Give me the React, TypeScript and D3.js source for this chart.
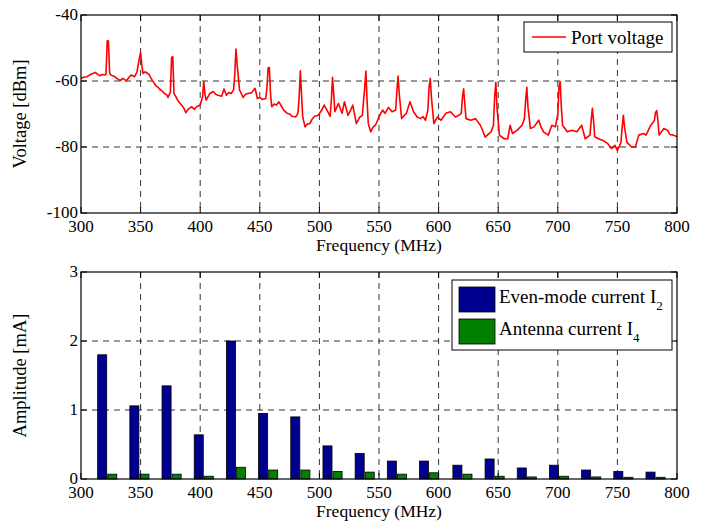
import React, { useRef, useEffect } from "react";
import * as d3 from "d3";

// port voltage trace (MHz, dBm)
const voltFreq = [
  300, 303, 305, 308, 312, 314, 316, 318, 320, 321, 322, 323, 324, 325, 328, 330, 333, 335, 338, 340,
  342, 345, 347, 349, 350, 351, 352, 354, 355, 357, 358, 360, 362, 363, 365, 366, 368, 370, 372, 373,
  375, 376, 377, 378, 380, 381, 384, 386, 388, 390, 393, 395, 397, 400, 402, 403, 404, 405, 408, 411,
  413, 415, 418, 420, 422, 424, 426, 428, 429, 430, 431, 433, 436, 438, 440, 443, 446, 448, 450, 452,
  455, 456, 457, 458, 459, 460, 462, 464, 466, 468, 470, 473, 475, 477, 480, 482, 483, 484, 485, 486,
  488, 490, 492, 494, 496, 499, 502, 504, 507, 509, 510, 511, 512, 513, 516, 519, 521, 524, 526, 528,
  531, 534, 536, 538, 539, 540, 541, 543, 545, 547, 550, 553, 555, 558, 561, 564, 565, 566, 567, 569,
  571, 573, 576, 579, 582, 585, 587, 589, 591, 592, 593, 594, 596, 599, 602, 606, 610, 614, 617, 619,
  620, 621, 622, 623, 627, 631, 635, 637, 639, 642, 644, 646, 647, 648, 649, 651, 655, 658, 660, 662,
  666, 670, 672, 673, 674, 675, 677, 680, 684, 686, 688, 692, 695, 698, 700, 701, 702, 703, 704, 708,
  712, 716, 720, 723, 727, 728, 729, 730, 731, 734, 738, 742, 745, 748, 750, 753, 754, 755, 756, 758,
  762, 765, 768, 772, 774, 778, 781, 782, 783, 784, 785, 789, 792, 794, 797, 800,
];
const voltDbm = [
  -59.2, -58.8, -58.7, -58.0, -57.4, -58.0, -58.4, -58.0, -58.2, -57.8, -47.8, -47.9, -57.5, -58.2, -58.6, -59.2, -59.9, -59.2, -59.9, -59.0,
  -58.2, -58.7, -57.2, -53.0, -51.3, -55.0, -57.7, -57.2, -57.5, -58.0, -58.7, -59.9, -61.0, -61.5, -62.0, -62.5, -63.0, -63.8, -64.2, -65.0,
  -63.3, -53.0, -52.6, -63.8, -65.0, -65.8, -67.1, -68.0, -69.6, -68.5, -67.8, -68.6, -67.8, -67.3, -64.8, -60.2, -64.0, -65.8, -63.8, -63.2,
  -64.0, -64.3, -64.6, -62.4, -64.3, -63.5, -63.8, -62.7, -58.0, -50.3, -55.0, -62.7, -65.0, -64.0, -63.8, -63.6, -62.2, -65.3, -65.0, -65.6,
  -65.3, -62.0, -56.0, -55.9, -64.0, -67.8, -67.0, -67.3, -66.3, -67.5, -68.8, -69.8, -70.0, -70.7, -70.9, -69.8, -65.0, -56.9, -64.0, -70.9,
  -73.9, -73.0, -72.9, -71.5, -70.7, -70.4, -68.8, -67.3, -69.3, -70.7, -66.0, -58.9, -64.0, -69.3, -66.8, -69.8, -66.3, -70.4, -69.0, -67.3,
  -72.9, -70.9, -70.4, -62.0, -57.0, -66.0, -72.9, -75.4, -74.0, -73.4, -70.9, -68.8, -69.8, -68.0, -69.3, -68.8, -63.0, -58.5, -64.0, -71.4,
  -70.5, -69.8, -66.3, -69.3, -70.9, -71.4, -70.8, -71.9, -68.8, -62.0, -59.2, -65.0, -72.9, -70.9, -71.9, -69.8, -69.3, -70.9, -70.4, -69.8,
  -65.0, -62.4, -67.0, -71.4, -71.9, -71.4, -73.4, -75.0, -77.0, -76.0, -75.4, -73.4, -65.0, -60.4, -68.0, -76.4, -77.5, -77.5, -73.4, -75.9,
  -74.9, -73.4, -71.4, -66.0, -61.9, -68.0, -74.4, -73.9, -71.9, -74.0, -75.4, -76.4, -73.4, -73.9, -70.0, -62.0, -60.2, -68.0, -73.4, -75.4,
  -74.9, -75.4, -73.4, -77.5, -76.4, -72.0, -68.3, -72.0, -76.9, -77.5, -78.0, -79.0, -80.5, -79.5, -81.0, -78.6, -74.0, -70.4, -74.0, -78.6,
  -80.0, -80.0, -76.4, -75.9, -76.4, -73.4, -72.0, -69.5, -69.0, -72.0, -76.4, -74.4, -74.9, -76.2, -76.4, -76.9,
];

// harmonic currents (MHz, mA)
const harmFreq = [322, 349, 376, 403, 430, 457, 484, 511, 538, 565, 592, 620, 647, 674, 701, 728, 755, 782];
const evenCurrent = [1.8, 1.06, 1.35, 0.64, 2.0, 0.95, 0.9, 0.48, 0.37, 0.26, 0.26, 0.2, 0.29, 0.16, 0.2, 0.13, 0.11, 0.1];
const antennaCurrent = [0.07, 0.07, 0.07, 0.04, 0.17, 0.13, 0.13, 0.11, 0.1, 0.07, 0.09, 0.07, 0.04, 0.03, 0.04, 0.03, 0.025, 0.025];

const freqTicks = [300, 350, 400, 450, 500, 550, 600, 650, 700, 750, 800];
const voltTicks = [-100, -80, -60, -40];
const ampTicks = [0, 1, 2, 3];

const FONT = "'Liberation Serif', 'Times New Roman', serif";

const App = () => {
  const svgRef = useRef(null);

  useEffect(() => {
    const svg = d3.select(svgRef.current);
    svg.selectAll("*").remove();

    const left = 81;
    const right = 677;
    const x = d3.scaleLinear().domain([300, 800]).range([left, right]);

    const drawGrid = (g, y, yTicks, top, bottom) => {
      g.selectAll(".gx")
        .data(freqTicks.slice(1, -1))
        .enter()
        .append("line")
        .attr("x1", (d) => x(d))
        .attr("x2", (d) => x(d))
        .attr("y1", top)
        .attr("y2", bottom)
        .attr("stroke", "#000")
        .attr("stroke-width", 0.8)
        .attr("stroke-dasharray", "6,5");
      g.selectAll(".gy")
        .data(yTicks.slice(1, -1))
        .enter()
        .append("line")
        .attr("x1", left)
        .attr("x2", right)
        .attr("y1", (d) => y(d))
        .attr("y2", (d) => y(d))
        .attr("stroke", "#000")
        .attr("stroke-width", 0.8)
        .attr("stroke-dasharray", "6,5");
    };

    const drawFrame = (g, y, yTicks, top, bottom, yLabel) => {
      g.append("rect")
        .attr("x", left)
        .attr("y", top)
        .attr("width", right - left)
        .attr("height", bottom - top)
        .attr("fill", "none")
        .attr("stroke", "#000")
        .attr("stroke-width", 1.2);

      // inward ticks on all sides
      freqTicks.forEach((t) => {
        g.append("line").attr("x1", x(t)).attr("x2", x(t)).attr("y1", bottom).attr("y2", bottom - 6).attr("stroke", "#000");
        g.append("line").attr("x1", x(t)).attr("x2", x(t)).attr("y1", top).attr("y2", top + 6).attr("stroke", "#000");
      });
      yTicks.forEach((t) => {
        g.append("line").attr("x1", left).attr("x2", left + 6).attr("y1", y(t)).attr("y2", y(t)).attr("stroke", "#000");
        g.append("line").attr("x1", right).attr("x2", right - 6).attr("y1", y(t)).attr("y2", y(t)).attr("stroke", "#000");
      });

      g.selectAll(".xt")
        .data(freqTicks)
        .enter()
        .append("text")
        .attr("x", (d) => x(d))
        .attr("y", bottom + 19)
        .attr("text-anchor", "middle")
        .attr("font-family", FONT)
        .attr("font-size", 17)
        .text((d) => d);

      g.selectAll(".yt")
        .data(yTicks)
        .enter()
        .append("text")
        .attr("x", left - 3)
        .attr("y", (d) => y(d) + 5)
        .attr("text-anchor", "end")
        .attr("font-family", FONT)
        .attr("font-size", 17)
        .text((d) => d);

      g.append("text")
        .attr("x", (left + right) / 2)
        .attr("y", bottom + 38)
        .attr("text-anchor", "middle")
        .attr("font-family", FONT)
        .attr("font-size", 17.5)
        .text("Frequency (MHz)");

      g.append("text")
        .attr("transform", `translate(26, ${(top + bottom) / 2}) rotate(-90)`)
        .attr("text-anchor", "middle")
        .attr("font-family", FONT)
        .attr("font-size", 18.5)
        .text(yLabel);
    };

    // ---- top panel: port voltage
    const t1 = 15;
    const b1 = 213;
    const y1 = d3.scaleLinear().domain([-100, -40]).range([b1, t1]);
    const g1 = svg.append("g");
    drawGrid(g1, y1, voltTicks, t1, b1);

    const line = d3
      .line()
      .x((d) => x(d[0]))
      .y((d) => y1(d[1]));
    g1.append("path")
      .datum(voltFreq.map((f, i) => [f, voltDbm[i]]))
      .attr("d", line)
      .attr("fill", "none")
      .attr("stroke", "#ff0000")
      .attr("stroke-width", 1.6)
      .attr("stroke-linejoin", "round");

    drawFrame(g1, y1, voltTicks, t1, b1, "Voltage [dBm]");

    // legend
    g1.append("rect").attr("x", 524).attr("y", 22).attr("width", 148).attr("height", 30)
      .attr("fill", "#fff").attr("stroke", "#000").attr("stroke-width", 1);
    g1.append("line").attr("x1", 532).attr("x2", 566).attr("y1", 37).attr("y2", 37)
      .attr("stroke", "#ff0000").attr("stroke-width", 1.6);
    g1.append("text").attr("x", 571).attr("y", 44).attr("font-family", FONT).attr("font-size", 19)
      .text("Port voltage");

    // ---- bottom panel: currents
    const t2 = 272;
    const b2 = 479;
    const y2 = d3.scaleLinear().domain([0, 3]).range([b2, t2]);
    const g2 = svg.append("g");
    drawGrid(g2, y2, ampTicks, t2, b2);

    const barW = x(307.6) - x(300);
    const series = [
      { values: evenCurrent, color: "#00008f", offset: -barW - 0.5 },
      { values: antennaCurrent, color: "#007f00", offset: 0.5 },
    ];
    series.forEach((s) => {
      g2.selectAll(null)
        .data(harmFreq.map((f, i) => [f, s.values[i]]))
        .enter()
        .append("rect")
        .attr("x", (d) => x(d[0]) + s.offset)
        .attr("y", (d) => y2(d[1]))
        .attr("width", barW)
        .attr("height", (d) => y2(0) - y2(d[1]))
        .attr("fill", s.color)
        .attr("stroke", "#000")
        .attr("stroke-width", 0.8);
    });

    drawFrame(g2, y2, ampTicks, t2, b2, "Amplitude [mA]");

    // legend
    const lg = g2.append("g");
    lg.append("rect").attr("x", 452).attr("y", 280).attr("width", 220).attr("height", 70)
      .attr("fill", "#fff").attr("stroke", "#000").attr("stroke-width", 1);
    const entries = [
      { label: "Even-mode current I", sub: "2", color: "#00008f" },
      { label: "Antenna current I", sub: "4", color: "#007f00" },
    ];
    entries.forEach((e, i) => {
      const yy = 287 + i * 32;
      lg.append("rect").attr("x", 459).attr("y", yy).attr("width", 36).attr("height", 25)
        .attr("fill", e.color).attr("stroke", "#000").attr("stroke-width", 0.8);
      const txt = lg.append("text").attr("x", 499).attr("y", yy + 16)
        .attr("font-family", FONT).attr("font-size", 19);
      txt.append("tspan").text(e.label);
      txt.append("tspan").attr("dy", 7).attr("font-size", 13).text(e.sub);
    });
  }, []);

  return (
    <svg
      ref={svgRef}
      width={707}
      height={525}
      style={{ position: "absolute", left: 0, top: 0, background: "#fff", display: "block" }}
    ></svg>
  );
};

export default App;
